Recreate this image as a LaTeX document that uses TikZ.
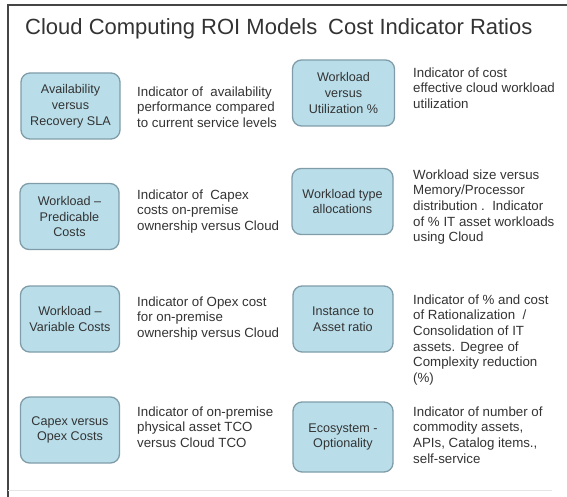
\documentclass[tikz,border=0pt]{standalone}
\usepackage{fontspec}
\setmainfont{Liberation Sans}
\definecolor{boxfill}{HTML}{B9DEEA}
\definecolor{boxline}{HTML}{7F9CA8}
\definecolor{inktext}{HTML}{333333}
\definecolor{frameline}{HTML}{454545}
\tikzset{
  ratiobox/.style={draw=boxline, fill=boxfill, line width=1.3pt, rounded corners=9pt,
    minimum width=99pt, minimum height=66pt, align=center, inner sep=2pt,
    text=inktext, font=\fontsize{12.6}{15.8}\selectfont},
  note/.style={anchor=north west, align=left, inner sep=0pt, text=inktext,
    font=\fontsize{13.3}{15.6}\selectfont},
  headline/.style={anchor=base west, inner sep=0pt, text=inktext,
    font=\fontsize{22}{26}\selectfont}
}
\begin{document}
\begin{tikzpicture}[x=1pt, y=-1pt]
  \useasboundingbox (0,0) rectangle (567,497);
  % outer frame
  \draw[frameline, line width=2pt] (8,497) -- (8,5) -- (567,5);
  \draw[black!10, line width=0.8pt] (8,490) -- (552,490);

  % heading
  \node[headline] (t1) at (25,35) {Cloud Computing ROI Models};
  \node[headline] (t2) at (328,35) {Cost Indicator Ratios};

  % left column
  \node[ratiobox] (b1) at (70.5,106) {Availability\\versus\\Recovery SLA};
  \node[note] (n1) at (137,86.5) {Indicator of\ \ availability\\performance compared\\to current service levels};

  \node[ratiobox] (b2) at (69.5,216.5) {Workload –\\Predicable\\Costs};
  \node[note] (n2) at (137,189.5) {Indicator of\ \ Capex\\costs on-premise\\ownership versus Cloud};

  \node[ratiobox] (b3) at (70,319) {Workload –\\Variable Costs};
  \node[note] (n3) at (137,296.5) {Indicator of Opex cost\\for on-premise\\ownership versus Cloud};

  \node[ratiobox] (b4) at (70,430) {Capex versus\\Opex Costs};
  \node[note] (n4) at (137,406.5) {Indicator of on-premise\\physical asset TCO\\versus Cloud TCO};

  % right column
  \node[ratiobox, minimum width=102pt] (b5) at (343.5,93) {Workload\\versus\\Utilization \%};
  \node[note] (n5) at (413,67.5) {Indicator of cost\\effective cloud workload\\utilization};

  \node[ratiobox, minimum width=101pt] (b6) at (342.5,201.5) {Workload type\\allocations};
  \node[note] (n6) at (413,169.5) {Workload size versus\\Memory/Processor\\distribution .\ \ Indicator\\of \% IT asset workloads\\using Cloud};

  \node[ratiobox, minimum width=100pt] (b7) at (343,319) {Instance to\\Asset ratio};
  \node[note] (n7) at (413,294.5) {Indicator of \% and cost\\of Rationalization\ \ /\\Consolidation of IT\\assets. Degree of\\Complexity reduction\\(\%)};

  \node[ratiobox, minimum width=100pt, minimum height=70pt] (b8) at (343,437) {Ecosystem -\\Optionality};
  \node[note] (n8) at (413,406.5) {Indicator of number of\\commodity assets,\\APIs, Catalog items.,\\self-service};
\end{tikzpicture}
\end{document}
